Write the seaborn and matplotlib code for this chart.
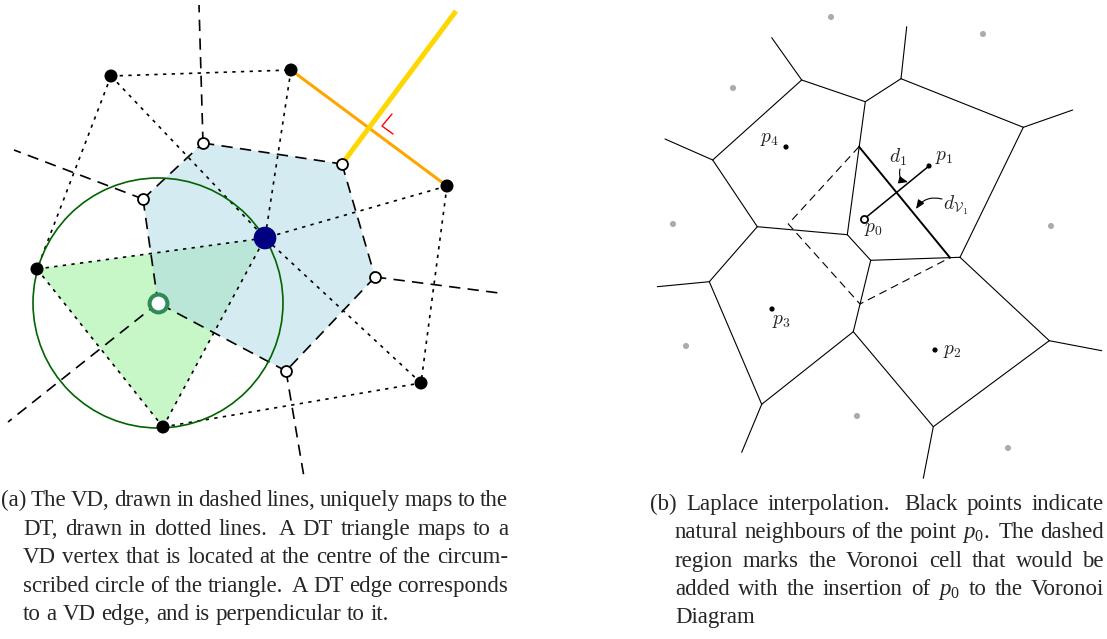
import numpy as np
import pandas as pd
import matplotlib
matplotlib.use("Agg")
import matplotlib.pyplot as plt
import seaborn as sns
from matplotlib.patches import Polygon, Circle

sns.set_theme(style="white")
plt.rcParams['font.family'] = ['Liberation Serif', 'DejaVu Serif']
plt.rcParams['mathtext.fontset'] = 'custom'
plt.rcParams['mathtext.it'] = 'Liberation Serif:italic'
plt.rcParams['mathtext.rm'] = 'Liberation Serif'

# ---------------- panel (a) data (pixel coordinates) ----------------
a_site_x = [111, 291, 447, 37, 163, 421, 265]
a_site_y = [76, 70, 186, 269, 427, 383, 238]   # last one = blue centre site
a_dt_edges = [(0, 1), (0, 3), (0, 6), (1, 6), (2, 6), (2, 5), (3, 6),
              (3, 4), (4, 6), (4, 5), (5, 6)]
a_orange_edge = (1, 2)
a_vd_x = [203, 342, 375, 286, 158, 143]
a_vd_y = [143, 164, 277, 371, 303, 199]
a_ray_from = [0, 5, 4, 3, 2]
a_ray_end_x = [199, 14, 8, 304, 499]
a_ray_end_y = [5, 150, 422, 477, 293]
a_yellow_from = 1
a_yellow_end = (456, 11)
a_triangle = [3, 4, 6]
a_green_vertex = 4
a_right_angle_x = [392, 382, 393]
a_right_angle_y = [114, 126, 134]

# ---------------- panel (b) data ----------------
b_gray_x = [831, 983, 733, 673, 1051, 686, 857, 1008]
b_gray_y = [17, 34, 88, 224, 226, 346, 416, 448]
b_black_x = [929, 935, 772, 786]
b_black_y = [166, 350, 309, 147]
b_p0 = (864, 219)
b_vert = {
    'A': (801.7, 80), 'B': (901, 78.7), 'C': (865.3, 101.7), 'D': (712.7, 160),
    'E': (1023.3, 127.3), 'F': (757.3, 226.7), 'G': (847.3, 234.7),
    'H': (870.7, 260.3), 'I': (960, 257.3), 'J': (709.3, 281.7),
    'K': (853.3, 331.7), 'L': (1049.3, 340.7), 'M': (761.7, 404.3),
    'N': (933.3, 426.7),
}
b_edges = [('A', 'C'), ('C', 'B'), ('B', 'E'), ('D', 'A'), ('D', 'F'), ('C', 'G'),
           ('F', 'G'), ('G', 'H'), ('H', 'I'), ('E', 'I'), ('F', 'J'), ('H', 'K'),
           ('J', 'M'), ('K', 'M'), ('K', 'N'), ('I', 'L'), ('L', 'N')]
b_rays = [('A', (771.7, 37.7)), ('B', (906.7, 26.7)), ('E', (1072.7, 110)),
          ('D', (665, 139)), ('J', (657.3, 286.7)), ('L', (1101.7, 350.7)),
          ('M', (741.7, 452.3)), ('N', (923.3, 478.3))]
b_new_cell_x = [859, 788.3, 860, 950]
b_new_cell_y = [146.7, 224, 304, 257.7]
b_labels = [r'$p_1$', r'$p_2$', r'$p_3$', r'$p_4$', r'$p_0$', r'$d_1$', r'$d_{\mathcal{V}_1}$']
b_label_x = [944, 952, 781, 769, 873, 898, 956]
b_label_y = [157, 351, 321, 139, 229, 157, 205]

cap_a = [["(a)"], "The VD, drawn in dashed lines, uniquely maps to the",
         "DT, drawn in dotted lines. A DT triangle maps to a",
         "VD vertex that is located at the centre of the circum-",
         "scribed circle of the triangle. A DT edge corresponds",
         "to a VD edge, and is perpendicular to it."]
cap_b = [["(b)"], "Laplace interpolation. Black points indicate",
         r"natural neighbours of the point $p_0$. The dashed",
         "region marks the Voronoi cell that would be",
         r"added with the insertion of $p_0$ to the Voronoi",
         "Diagram"]

# ---------------- figure ----------------
W, H = 1107, 639
fig = plt.figure(figsize=(W / 100, H / 100), dpi=100)
ax = fig.add_axes([0, 0, 1, 1])

dash_vd = (0, (6.8, 4.4))
dot_dt = (0, (2.0, 3.2))

# fills
tri = np.array([[a_site_x[i], a_site_y[i]] for i in a_triangle])
ax.add_patch(Polygon(tri, closed=True, facecolor='lightgreen', alpha=0.5,
                     edgecolor='none', zorder=1))
hexa = np.column_stack([a_vd_x, a_vd_y])
ax.add_patch(Polygon(hexa, closed=True, facecolor='lightblue', alpha=0.5,
                     edgecolor='none', zorder=1.1))

# DT edges
for i, j in a_dt_edges:
    ax.plot([a_site_x[i], a_site_x[j]], [a_site_y[i], a_site_y[j]], color='black',
            lw=1.2, linestyle=dot_dt, zorder=2)
i, j = a_orange_edge
ax.plot([a_site_x[i], a_site_x[j]], [a_site_y[i], a_site_y[j]], color='orange',
        lw=2.2, solid_capstyle='butt', zorder=2.5)

# VD edges
n = len(a_vd_x)
for k in range(n):
    m = (k + 1) % n
    ax.plot([a_vd_x[k], a_vd_x[m]], [a_vd_y[k], a_vd_y[m]], color='black',
            lw=1.2, linestyle=dash_vd, zorder=2)
for k, ex, ey in zip(a_ray_from, a_ray_end_x, a_ray_end_y):
    ax.plot([a_vd_x[k], ex], [a_vd_y[k], ey], color='black', lw=1.2,
            linestyle=dash_vd, zorder=2)
ax.plot([a_vd_x[a_yellow_from], a_yellow_end[0]], [a_vd_y[a_yellow_from], a_yellow_end[1]],
        color='gold', lw=3.6, solid_capstyle='butt', zorder=2.6)
ax.plot(a_right_angle_x, a_right_angle_y, color='red', lw=1.0, zorder=3)

# circumscribed circle
cx, cy = a_vd_x[a_green_vertex], a_vd_y[a_green_vertex]
r = np.mean([np.hypot(a_site_x[i] - cx, a_site_y[i] - cy) for i in a_triangle])
ax.add_patch(Circle((cx, cy), r, fill=False, edgecolor='darkgreen', lw=1.2, zorder=3))

# points (a)
sns.scatterplot(x=a_site_x[:-1], y=a_site_y[:-1], ax=ax, s=88, color='black',
                edgecolor='none', zorder=5, legend=False)
sns.scatterplot(x=[a_site_x[-1]], y=[a_site_y[-1]], ax=ax, s=266, color='navy',
                edgecolor='none', zorder=5, legend=False)
vd_open = [k for k in range(n) if k != a_green_vertex]
sns.scatterplot(x=[a_vd_x[k] for k in vd_open], y=[a_vd_y[k] for k in vd_open], ax=ax,
                s=62, color='white', edgecolor='black', linewidth=1.3, zorder=5, legend=False)
sns.scatterplot(x=[cx], y=[cy], ax=ax, s=165, color='white', edgecolor='seagreen',
                linewidth=2.9, zorder=5, legend=False)

# ---------------- panel (b) ----------------
for u, v in b_edges:
    (x1, y1), (x2, y2) = b_vert[u], b_vert[v]
    ax.plot([x1, x2], [y1, y2], color='black', lw=0.8, zorder=2)
for u, (ex, ey) in b_rays:
    x1, y1 = b_vert[u]
    ax.plot([x1, ex], [y1, ey], color='black', lw=0.8, zorder=2)
ax.plot([b_new_cell_x[0], b_new_cell_x[3]], [b_new_cell_y[0], b_new_cell_y[3]],
        color='black', lw=1.4, zorder=2.2)
ax.plot(b_new_cell_x, b_new_cell_y, color='black', lw=0.8,
        linestyle=(0, (7.2, 4.5)), zorder=2.1)
ax.plot([b_p0[0], b_black_x[0]], [b_p0[1], b_black_y[0]], color='black', lw=1.1, zorder=2.3)

sns.scatterplot(x=b_gray_x, y=b_gray_y, ax=ax, s=19, color='#ababab', edgecolor='none',
                zorder=5, legend=False)
sns.scatterplot(x=b_black_x, y=b_black_y, ax=ax, s=14, color='black', edgecolor='none',
                zorder=5, legend=False)
sns.scatterplot(x=[b_p0[0]], y=[b_p0[1]], ax=ax, s=26, color='white', edgecolor='black',
                linewidth=1.3, zorder=5, legend=False)

for lab, lx, ly in zip(b_labels, b_label_x, b_label_y):
    ax.text(lx, ly, lab, fontsize=14, ha='center', va='center', math_fontfamily='cm',
            zorder=6)

ax.annotate('', xy=(908, 182), xytext=(900, 169),
            arrowprops=dict(arrowstyle='-|>,head_length=0.45,head_width=0.18',
                            color='black', lw=0.8, shrinkA=0, shrinkB=0,
                            connectionstyle='arc3,rad=0.5'), fontsize=12, zorder=6)
ax.annotate('', xy=(916, 209), xytext=(942, 199),
            arrowprops=dict(arrowstyle='-|>,head_length=0.45,head_width=0.18',
                            color='black', lw=0.8, shrinkA=0, shrinkB=0,
                            connectionstyle='arc3,rad=0.35'), fontsize=12, zorder=6)

ax.set_xlim(0, W)
ax.set_ylim(H, 0)
ax.axis('off')

# ---------------- captions ----------------
renderer = fig.canvas.get_renderer()
FS = 16.5


def place_words(words, x0, x1, y, justify=True):
    texts = [ax.text(0, y, w, fontsize=FS, va='baseline', ha='left') for w in words]
    widths = [t.get_window_extent(renderer).width for t in texts]
    if not justify:
        space = 0.25 * FS * 100 / 72
        x = x0
        for t, w in zip(texts, widths):
            t.set_x(x)
            x += w + space
        return
    weights = [1.6 if words[i].endswith('.') else 1.0 for i in range(len(words) - 1)]
    gap = (x1 - x0 - sum(widths)) / max(sum(weights), 1e-9)
    x = x0
    for i, t in enumerate(texts):
        t.set_x(x)
        if i < len(weights):
            x += widths[i] + gap * weights[i]


def caption(lines, lab_x, first_x, indent_x, right_x, y0, dy):
    ax.text(lab_x, y0, lines[0][0], fontsize=FS, va='baseline', ha='left')
    body = lines[1:]
    for k, line in enumerate(body):
        x0 = first_x if k == 0 else indent_x
        last = (k == len(body) - 1)
        place_words(line.split(' '), x0, right_x, y0 + k * dy, justify=not last)


caption(cap_a, 1, 31, 23, 508, 506, 28.6)
caption(cap_b, 650, 686, 675, 1104, 510, 28.3)

fig.savefig('out.png', dpi=100)
